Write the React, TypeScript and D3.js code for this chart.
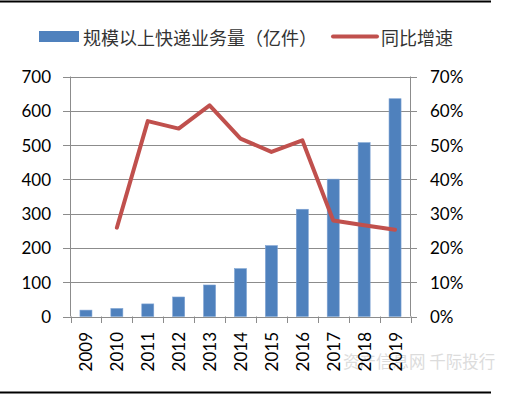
import React from "react";
import * as d3 from "d3";

const years = ["2009", "2010", "2011", "2012", "2013", "2014", "2015", "2016", "2017", "2018", "2019"];
const volume = [18.6, 23.4, 36.7, 56.9, 91.9, 139.6, 206.7, 312.8, 400.6, 507.1, 635.2];
const growth: (number | null)[] = [null, 25.9, 57.0, 54.8, 61.6, 51.9, 48.0, 51.4, 28.0, 26.6, 25.3];
const leftTicks = [0, 100, 200, 300, 400, 500, 600, 700];
const rightTicks = [0, 10, 20, 30, 40, 50, 60, 70];
const barLabel = "规模以上快递业务量（亿件）";
const lineLabel = "同比增速";
const watermark = "资产信息网 千际投行";

const W = 514, H = 396;
const plot = { left: 70.5, right: 410.5, top: 76.5, bottom: 316.5 };
const numFont = "Lato, 'Open Sans', sans-serif";
const cjkFont = "'Noto Sans CJK SC', sans-serif";
const gridColor = "#8c8c8c";

export default function App() {
  const x = d3.scaleBand<string>().domain(years).range([plot.left, plot.right]).paddingInner(0).paddingOuter(0);
  const yL = d3.scaleLinear().domain([0, 700]).range([plot.bottom, plot.top]);
  const yR = d3.scaleLinear().domain([0, 70]).range([plot.bottom, plot.top]);
  const bw = 12;
  const line = d3
    .line<number | null>()
    .defined((d) => d !== null)
    .x((_, i) => (x(years[i]) as number) + x.bandwidth() / 2)
    .y((d) => yR(d as number));
  const boundaries = d3.range(years.length + 1).map((i) => plot.left + i * x.bandwidth());

  return (
    <svg width={W} height={H} style={{ position: "absolute", left: 0, top: 0, background: "#fff" }}>
      <line x1={0} x2={491} y1={1.5} y2={1.5} stroke="#000" strokeWidth={2} />
      <line x1={0} x2={491} y1={392.5} y2={392.5} stroke="#000" strokeWidth={2} />

      {/* legend */}
      <rect x={39} y={31} width={40} height={11} fill="#4F81BD" />
      <text x={83} y={37} dominantBaseline="central" fontFamily={cjkFont} fontSize={18} fill="#333">
        {barLabel}
      </text>
      <line x1={333} x2={377} y1={36.5} y2={36.5} stroke="#C0504D" strokeWidth={4} strokeLinecap="round" />
      <text x={381} y={37} dominantBaseline="central" fontFamily={cjkFont} fontSize={18} fill="#333">
        {lineLabel}
      </text>

      {/* gridlines & ticks */}
      {leftTicks.map((t) => (
        <g key={"l" + t}>
          <line x1={63} x2={plot.right} y1={Math.round(yL(t)) + 0.5} y2={Math.round(yL(t)) + 0.5} stroke={gridColor} strokeWidth={1} />
          <text x={51} y={yL(t)} textAnchor="end" dominantBaseline="central" fontFamily={numFont} fontSize={17} fill="#000">
            {t}
          </text>
        </g>
      ))}
      {rightTicks.map((t) => (
        <g key={"r" + t}>
          <line x1={plot.right} x2={417} y1={Math.round(yR(t)) + 0.5} y2={Math.round(yR(t)) + 0.5} stroke={gridColor} strokeWidth={1} />
          <text x={430} y={yR(t)} textAnchor="start" dominantBaseline="central" fontFamily={numFont} fontSize={17} fill="#000">
            {t + "%"}
          </text>
        </g>
      ))}
      <line x1={plot.left} x2={plot.left} y1={plot.top} y2={plot.bottom} stroke={gridColor} strokeWidth={1} />
      <line x1={plot.right} x2={plot.right} y1={plot.top} y2={plot.bottom} stroke={gridColor} strokeWidth={1} />
      {boundaries.map((b, i) => (
        <line key={"b" + i} x1={Math.round(b) + 0.5} x2={Math.round(b) + 0.5} y1={plot.bottom} y2={323} stroke={gridColor} strokeWidth={1} />
      ))}

      {/* bars */}
      {volume.map((v, i) => {
        const cx = (x(years[i]) as number) + x.bandwidth() / 2;
        return (
          <rect key={"bar" + i} x={cx - bw / 2} y={yL(v)} width={bw} height={yL(0) - yL(v)} fill="#4F81BD" stroke="#7EA3D3" strokeWidth={0.6} />
        );
      })}

      {/* line */}
      <path d={line(growth) || ""} fill="none" stroke="#C0504D" strokeWidth={4} strokeLinejoin="round" strokeLinecap="round" />

      {/* watermark (behind labels) */}
      <text x={343} y={361} dominantBaseline="central" fontFamily={cjkFont} fontSize={16.5} fill="#dcdcdc">
        {watermark}
      </text>

      {/* x labels */}
      {years.map((yr) => {
        const cx = (x(yr) as number) + x.bandwidth() / 2;
        return (
          <text key={"x" + yr} transform={`translate(${cx},332) rotate(-90)`} textAnchor="end" dominantBaseline="central" fontFamily={numFont} fontSize={17} fill="#000">
            {yr}
          </text>
        );
      })}
    </svg>
  );
}
